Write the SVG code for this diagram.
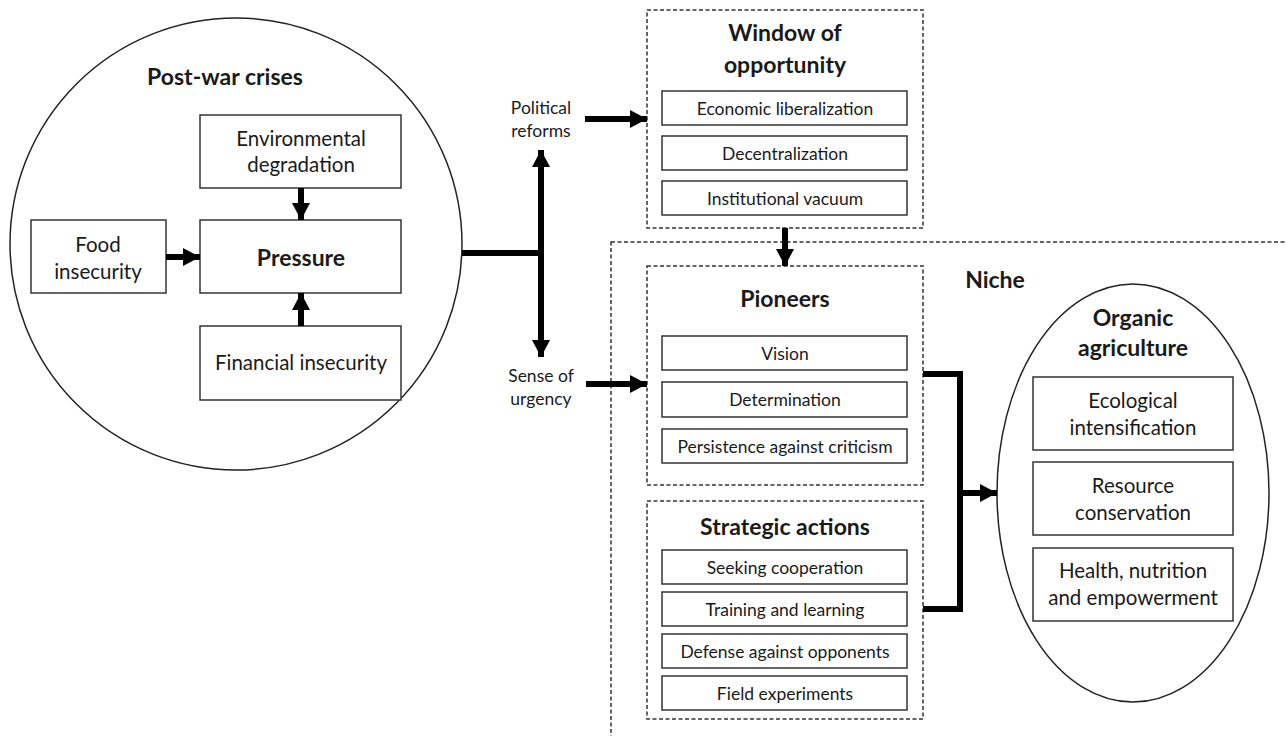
<svg xmlns="http://www.w3.org/2000/svg" width="1287" height="736" viewBox="0 0 1287 736">
<style>
text{font-family:Lato,"Liberation Sans",sans-serif;fill:#1a1a1a;text-anchor:middle}
.t{font-size:23px;font-weight:bold}
.b{font-size:20.5px}
.s{font-size:17.5px}
.box{fill:#fff;stroke:#333;stroke-width:1.5}
.dash{fill:none;stroke:#333;stroke-width:1.5;stroke-dasharray:4 2.5}
.shape{fill:#fff;stroke:#222;stroke-width:1.5}
.c{stroke:#000;stroke-width:6;fill:none}
</style>
<defs>
<marker id="ah" markerUnits="userSpaceOnUse" markerWidth="18" markerHeight="18" refX="17" refY="9" orient="auto">
<path d="M0,0 L17,9 L0,18 z" fill="#000"/>
</marker>
</defs>
<rect width="1287" height="736" fill="#fff"/>

<g id="niche">
<rect class="dash" x="611" y="242" width="720" height="520"/>
<text class="t" x="995" y="288">Niche</text>
</g>

<g id="post-war-crises">
<circle class="shape" cx="236" cy="244" r="226"/>
<text class="t" x="225" y="85">Post-war crises</text>
</g>
<g id="environmental-degradation">
<rect class="box" x="200" y="115" width="201" height="73"/>
<text class="b" x="301" y="146">Environmental</text>
<text class="b" x="301" y="172">degradation</text>
</g>
<g id="pressure">
<rect class="box" x="200" y="220" width="201" height="73"/>
<text x="301" y="266" style="font-size:23px;font-weight:bold">Pressure</text>
</g>
<g id="food-insecurity">
<rect class="box" x="31" y="220" width="135" height="73"/>
<text class="b" x="98" y="252">Food</text>
<text class="b" x="98" y="279">insecurity</text>
</g>
<g id="financial-insecurity">
<rect class="box" x="200" y="326" width="201" height="74"/>
<text class="b" x="301" y="370">Financial insecurity</text>
</g>

<g id="political-reforms">
<text class="s" x="541" y="114">Political</text>
<text class="s" x="541" y="137">reforms</text>
</g>
<g id="sense-of-urgency">
<text class="s" x="541" y="382">Sense of</text>
<text class="s" x="541" y="405">urgency</text>
</g>

<g id="window-of-opportunity">
<rect class="dash" x="647" y="10" width="276" height="218"/>
<text class="t" x="785" y="41">Window of</text>
<text class="t" x="785" y="73">opportunity</text>
<rect class="box" x="662" y="91" width="245" height="34"/>
<text class="s" x="785" y="115">Economic liberalization</text>
<rect class="box" x="662" y="136" width="245" height="34"/>
<text class="s" x="785" y="160">Decentralization</text>
<rect class="box" x="662" y="181" width="245" height="34"/>
<text class="s" x="785" y="205">Institutional vacuum</text>
</g>

<g id="pioneers">
<rect class="dash" x="647" y="266" width="276" height="219"/>
<text class="t" x="785" y="307">Pioneers</text>
<rect class="box" x="662" y="336" width="245" height="34"/>
<text class="s" x="785" y="360">Vision</text>
<rect class="box" x="662" y="382" width="245" height="35"/>
<text class="s" x="785" y="406">Determination</text>
<rect class="box" x="662" y="429" width="245" height="34"/>
<text class="s" x="785" y="453">Persistence against criticism</text>
</g>

<g id="strategic-actions">
<rect class="dash" x="647" y="501" width="276" height="218"/>
<text class="t" x="785" y="535">Strategic actions</text>
<rect class="box" x="662" y="550" width="245" height="34"/>
<text class="s" x="785" y="574">Seeking cooperation</text>
<rect class="box" x="662" y="592" width="245" height="34"/>
<text class="s" x="785" y="616">Training and learning</text>
<rect class="box" x="662" y="634" width="245" height="34"/>
<text class="s" x="785" y="658">Defense against opponents</text>
<rect class="box" x="662" y="676" width="245" height="34"/>
<text class="s" x="785" y="700">Field experiments</text>
</g>

<g id="organic-agriculture">
<ellipse class="shape" cx="1133" cy="493" rx="136" ry="209"/>
<text class="t" x="1133" y="326">Organic</text>
<text class="t" x="1133" y="356">agriculture</text>
<rect class="box" x="1033" y="377" width="200" height="73"/>
<text class="b" x="1133" y="408">Ecological</text>
<text class="b" x="1133" y="435">intensification</text>
<rect class="box" x="1033" y="462" width="200" height="73"/>
<text class="b" x="1133" y="493">Resource</text>
<text class="b" x="1133" y="520">conservation</text>
<rect class="box" x="1033" y="548" width="200" height="73"/>
<text class="b" x="1133" y="578">Health, nutrition</text>
<text class="b" x="1133" y="605">and empowerment</text>
</g>

<g id="connectors">
<line class="c" x1="301" y1="188" x2="301" y2="220" marker-end="url(#ah)"/>
<line class="c" x1="166" y1="257" x2="200" y2="257" marker-end="url(#ah)"/>
<line class="c" x1="301" y1="326" x2="301" y2="293" marker-end="url(#ah)"/>
<line class="c" x1="462" y1="253" x2="541" y2="253"/>
<line class="c" x1="541" y1="253" x2="541" y2="150" marker-end="url(#ah)"/>
<line class="c" x1="541" y1="253" x2="541" y2="357" marker-end="url(#ah)"/>
<line class="c" x1="585" y1="119" x2="647" y2="119" marker-end="url(#ah)"/>
<line class="c" x1="586" y1="384" x2="647" y2="384" marker-end="url(#ah)"/>
<line class="c" x1="785" y1="228" x2="785" y2="266" marker-end="url(#ah)"/>
<polyline class="c" points="923,374 960,374 960,609 923,609"/>
<line class="c" x1="960" y1="493" x2="997" y2="493" marker-end="url(#ah)"/>
</g>
</svg>
